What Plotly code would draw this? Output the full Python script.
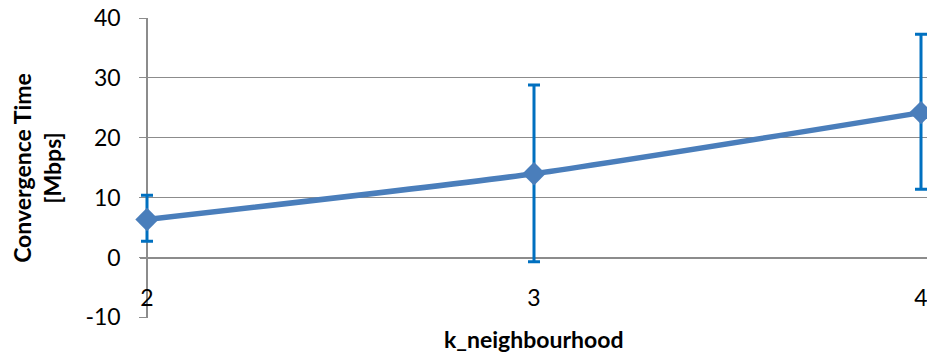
import plotly.graph_objects as go

k_values = [2, 3, 4]
tick_labels = ["2", "3", "4"]
conv_mean = [6.35, 14.0, 24.2]
err_plus = [4.05, 14.8, 13.1]
err_minus = [3.65, 14.7, 12.8]
y_ticks = [-10, 0, 10, 20, 30, 40]
y_tick_text = ["-10", "0", "10", "20", "30", "40"]

FONT = "Lato, Calibri, 'Liberation Sans', sans-serif"
GRID = "#8c8c8c"
# small padding so edge error-bar caps are not clipped (2 -> 147px, 4 -> 921px)
X_RANGE = [1.9819, 4.0155]
Y_RANGE = [-10.1, 40]

fig = go.Figure()
fig.add_trace(go.Scatter(
    x=k_values, y=conv_mean,
    mode="lines+markers",
    line=dict(color="#4A7EBB", width=5.5, shape="spline", smoothing=0.6),
    marker=dict(symbol="diamond", size=18, color="#4A7EBB"),
    error_y=dict(type="data", symmetric=False, array=err_plus, arrayminus=err_minus,
                 color="#0070C0", thickness=3, width=6),
    cliponaxis=False,
    showlegend=False,
))

fig.update_layout(
    width=927, height=356,
    margin=dict(l=140, r=0, t=18, b=38, autoexpand=False),
    paper_bgcolor="white", plot_bgcolor="white",
    font=dict(family=FONT, size=23, color="black"),
    xaxis=dict(
        range=X_RANGE, tickvals=k_values, ticktext=tick_labels,
        showgrid=False, zeroline=False, showline=False, ticks="",
        anchor="free", position=0.12,
        ticklabeloverflow="allow", automargin=False,
        title=None,
        tickfont=dict(size=23),
    ),
    xaxis2=dict(
        overlaying="x", anchor="free", position=0.2,
        range=X_RANGE, tickvals=k_values, showticklabels=False,
        ticks="outside", ticklen=5, tickcolor=GRID, tickwidth=1.2,
        showgrid=False, zeroline=False, showline=False, automargin=False,
        layer="below traces",
    ),
    yaxis=dict(
        range=Y_RANGE, tickvals=y_ticks, ticktext=y_tick_text,
        anchor="free", position=7 / 787,
        showgrid=True, gridcolor=GRID, gridwidth=1.2,
        zeroline=True, zerolinecolor=GRID, zerolinewidth=1.5,
        showline=True, linecolor=GRID, linewidth=1.5,
        ticks="outside", ticklen=7, tickcolor=GRID, tickwidth=1.2,
        ticklabelstandoff=14, automargin=False,
        layer="below traces",
        title=dict(text="<b>Convergence Time<br>[Mbps]</b>", font=dict(size=23), standoff=16),
    ),
    annotations=[dict(
        text="<b>k_neighbourhood</b>", x=0.5, y=-0.07, xref="paper", yref="paper",
        xanchor="center", yanchor="middle", showarrow=False, font=dict(size=23),
    )],
)

fig.write_html(
    "out.html",
    config={"displayModeBar": False},
    post_script="document.body.style.margin='0';document.body.style.overflow='hidden';",
)
